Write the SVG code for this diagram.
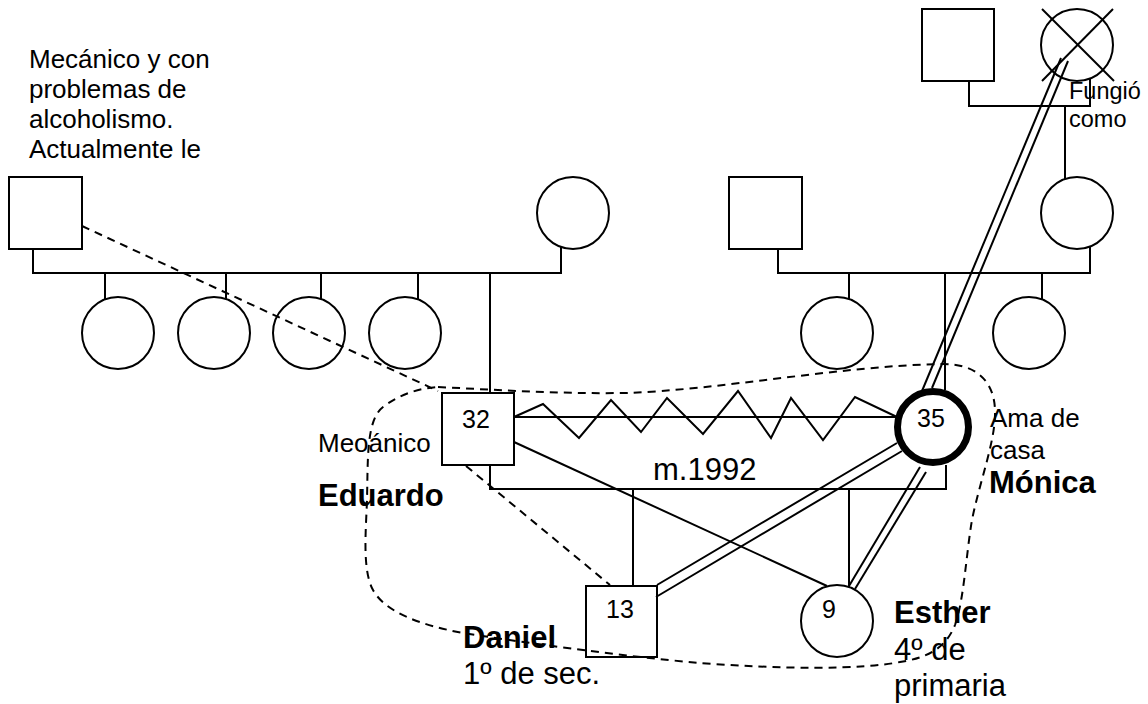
<svg xmlns="http://www.w3.org/2000/svg" width="1148" height="704" viewBox="0 0 1148 704">
<style>
  .ln{stroke:#000;stroke-width:2;fill:none}
  .dash{stroke:#000;stroke-width:2;fill:none;stroke-dasharray:8 6}
  .nd{stroke:#000;stroke-width:2;fill:#fff}
  .open{stroke:#000;stroke-width:2;fill:none}
  .idx{stroke:#000;stroke-width:7;fill:#fff}
  text{font-family:"Liberation Sans",Arial,sans-serif;fill:#000}
  .note{font-size:26px}
  .num{font-size:25px;text-anchor:middle}
  .name{font-size:31px;font-weight:bold}
  .big{font-size:31px}
  .small{font-size:23.5px}
</style>
<rect width="1148" height="704" fill="#fff"/>

<!-- paternal grandparents and aunts -->
<g id="pgf">
  <rect class="nd" x="9" y="177" width="73" height="72"/>
  <text class="note" x="29" y="68">Mecánico y con</text>
  <text class="note" x="29" y="98">problemas de</text>
  <text class="note" x="29" y="128">alcoholismo.</text>
  <text class="note" x="29" y="158">Actualmente le</text>
</g>
<g id="pgm"><circle class="nd" cx="573" cy="213" r="36"/></g>
<g id="aunt1"><circle class="open" cx="118" cy="333" r="36"/></g>
<g id="aunt2"><circle class="open" cx="214" cy="333" r="36"/></g>
<g id="aunt3"><circle class="open" cx="309" cy="333" r="36"/></g>
<g id="aunt4"><circle class="open" cx="405" cy="333" r="36"/></g>

<!-- maternal great-grandparents -->
<g id="mggf"><rect class="nd" x="922" y="9" width="72" height="72"/></g>
<g id="mggm">
  <circle class="open" cx="1077" cy="45" r="36"/>
  <line class="ln" x1="1042" y1="9" x2="1114" y2="81"/>
  <line class="ln" x1="1113" y1="9" x2="1042" y2="81"/>
  <text class="small" x="1069" y="99">Fungió</text>
  <text class="small" x="1069" y="127">como</text>
</g>

<!-- maternal grandparents and aunts -->
<g id="mgf"><rect class="nd" x="729" y="177" width="73" height="72"/></g>
<g id="mgm"><circle class="nd" cx="1077" cy="213" r="36"/></g>
<g id="maunt1"><circle class="nd" cx="837" cy="333" r="36"/></g>
<g id="maunt2"><circle class="nd" cx="1029" cy="333" r="36"/></g>

<!-- household -->
<g id="eduardo">
  <rect class="nd" x="442" y="393" width="72" height="72"/>
  <text class="num" x="476" y="428">32</text>
  <text class="note" x="318" y="452">Meoánico</text>
  <text class="name" x="318" y="506">Eduardo</text>
</g>
<g id="monica">
  <circle class="idx" cx="933" cy="427" r="35.5"/>
  <text class="num" x="931" y="427">35</text>
  <text class="note" x="990" y="427">Ama de</text>
  <text class="note" x="990" y="459">casa</text>
  <text class="name" x="989" y="493">Mónica</text>
</g>
<g id="daniel">
  <rect class="nd" x="586" y="586" width="71" height="71"/>
  <text class="num" x="620" y="618">13</text>
  <text class="name" x="463" y="648">Daniel</text>
  <text class="big" x="463" y="684">1º de sec.</text>
</g>
<g id="esther">
  <circle class="nd" cx="837" cy="621" r="36"/>
  <text class="num" x="829" y="618">9</text>
  <text class="name" x="894" y="623">Esther</text>
  <text class="big" x="894" y="660">4º de</text>
  <text class="big" x="894" y="696">primaria</text>
</g>
<g id="label-marriage"><text class="big" x="653" y="480">m.1992</text></g>

<g id="connectors">
  <!-- paternal sibship -->
  <polyline class="ln" points="33,249 33,273 561,273 561,247"/>
  <line class="ln" x1="105" y1="273" x2="105" y2="299"/>
  <line class="ln" x1="226" y1="273" x2="226" y2="299"/>
  <line class="ln" x1="321" y1="273" x2="321" y2="299"/>
  <line class="ln" x1="418" y1="273" x2="418" y2="299"/>
  <line class="ln" x1="490" y1="273" x2="490" y2="393"/>
  <!-- great-grandparents -->
  <polyline class="ln" points="969,81 969,106 1090,106 1090,79"/>
  <line class="ln" x1="1065" y1="106" x2="1065" y2="179"/>
  <!-- maternal sibship -->
  <polyline class="ln" points="778,249 778,273 1090,273 1090,247"/>
  <line class="ln" x1="849" y1="273" x2="849" y2="299"/>
  <line class="ln" x1="1042" y1="273" x2="1042" y2="299"/>
  <line class="ln" x1="945" y1="273" x2="945" y2="390"/>
  <!-- marriage and children -->
  <polyline class="ln" points="490,465 490,489 946,489 946,465"/>
  <line class="ln" x1="633" y1="489" x2="633" y2="586"/>
  <line class="ln" x1="849" y1="489" x2="849" y2="587"/>
  <!-- conflictive relation -->
  <line class="ln" x1="514" y1="417" x2="897" y2="417"/>
  <polyline class="ln" points="514,417 543,404 579,438 611,400 641,432 667,398 703,434 738,391 771,438 791,398 823,440 855,397 897,417"/>
  <line class="ln" x1="514" y1="442" x2="827" y2="586"/>
  <!-- close relations -->
  <line class="ln" x1="1061" y1="58" x2="922" y2="391"/>
  <line class="ln" x1="1068" y1="61" x2="932" y2="388"/>
  <line class="ln" x1="897" y1="443" x2="657" y2="585"/>
  <line class="ln" x1="902" y1="451" x2="656" y2="597"/>
  <line class="ln" x1="920" y1="467" x2="849" y2="586"/>
  <line class="ln" x1="926" y1="472" x2="855" y2="589"/>
  <!-- distant relations -->
  <line class="dash" x1="82" y1="226" x2="438" y2="391"/>
  <line class="dash" x1="466" y1="466" x2="610" y2="585"/>
  <!-- household boundary -->
  <path class="dash" d="M438,387 C500,390 560,394 625,393 C720,390 840,366 940,364 C975,363 994,380 995,410 C996,440 980,480 972,520 C966,555 964,600 955,625 C945,650 925,658 900,662 C860,670 780,669 700,663 C620,656 520,642 463,633 C420,625 385,612 373,590 C362,570 366,530 367,500 C368,460 366,420 383,407 C400,394 420,388 438,387 Z"/>
</g>
</svg>
